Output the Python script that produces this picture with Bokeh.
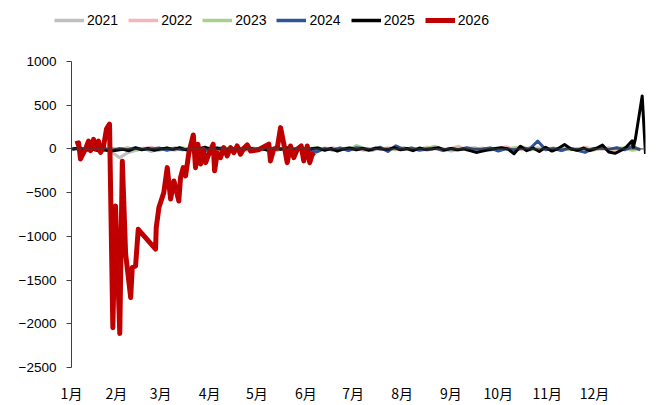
from bokeh.plotting import figure
from bokeh.layouts import column, row
from bokeh.models import Range1d, FixedTicker, Legend, LegendItem, Span
from bokeh.embed import file_html
from bokeh.resources import INLINE

# ---------------- data ----------------
years = ["2021", "2022", "2023", "2024", "2025", "2026"]
month_labels = ["1月", "2月", "3月", "4月", "5月", "6月", "7月", "8月", "9月", "10月", "11月", "12月"]
month_start_days = [1, 32, 60, 91, 121, 152, 182, 213, 244, 274, 305, 335]

vals_2021 = [-10, 5, -15, 10, -5, -35, -100, -45, -20, 10, -30, 5, -10,
             15, -5, 10, -20, 5, 15, -10, 0, 10, -15, 5, -5, 15,
             -10, 0, 10, -20, 5, -5, 10, -15, 0, 15, -10, 5, -20,
             10, 0, -10, 15, -5, 5, -15, 10, 0, -25, -10, 5, 15,
             -5, 10, -15, 0, 5, -10, 15, -5, 0, 10, -15, 5, -10,
             20, -5, 0, 10, -10, 5, -15, 0]
vals_2022 = [5, -10, 15, -5, 10, -20, -5, 10, -15, 5, 20, -10, 0,
             -15, 10, -40, 5, -10, 15, 0, -20, 10, 5, -10, 15, -5,
             10, -15, 0, 20, -10, 5, -5, 15, -10, 0, 10, -20, 5,
             -5, 15, 0, -10, 10, -5, 20, 0, -15, 5, 30, -10, 0,
             10, -15, 5, 25, -5, 0, -10, 15, -5, 10, -20, 5,
             -10, 15, 0, -5, 10, -15, 5, 20, -10]
vals_2023 = [0, 10, -10, 5, -15, 10, -5, 15, -10, 0, 5, -15, 10,
             -5, 15, -10, 0, 10, -20, 5, 15, -5, 0, 10, -10, 5,
             -15, 10, 0, 5, -10, 15, -5, 0, 10, -15, 40, 5, -10,
             15, -5, 0, 10, -15, 5, 10, 30, -5, 0, 15, -10, 5,
             -15, 10, 0, -5, 15, 25, -10, 0, 10, -5, 15, -10,
             5, 0, -15, 10, -5, 5, 15, -10, 0]
vals_2024 = [-5, 10, -15, 0, 10, -20, 5, -10, 15, -5, 0, 10, -15,
             5, -10, 0, 15, -20, 5, 10, -15, 0, 10, -5, 5, -15,
             10, -5, 0, 15, -10, -35, 5, -10, 10, -20, 15, 5, -10,
             20, -30, 35, -5, 10, -15, 0, 10, -20, 5, -10, 15, -5,
             0, 10, -25, 5, -15, 10, 0, 90, -10, 5, -20, 10,
             -15, -40, 5, 10, -5, 15, -10, 30, -10]
vals_2025 = [0, 10, -15, 5, -20, -10, -25, -15, -5, -20, 10, -10, 5, -15, 0,
             10, -5, 15, -10, 5, 0, 20, -5, 10, -15, 5, 0, -10, 10, -5,
             5, -15, 10, -5, 15, -10, 0, -20, 5, 10, -15, 5, -25, 0, 10,
             -10, 5, -15, 10, 0, -5, 15, -10, 5, -20, 10, -5, 0, 15, -10,
             5, -10, 0, -20, -40, -25, -10, 5, 15, 0, -55, 30, -20, 10, -30,
             20, -25, 5, 50, 0, -15, 10, -20, 5, 45, -35, -50, -15]
tail_days_2025 = [355, 358.8, 359.6, 360.9, 365.2, 367.3]
tail_vals_2025 = [20, 92, 15, 115, 606, -57]

days_2026 = [6, 8, 9.2, 12.4, 14.3, 15.6, 17.5, 18.7, 20.6, 21.9, 23.8, 25.7, 27.6,
             29.7, 31.4, 34.1, 35.7, 37.8, 41, 42, 44.1, 45.8, 56.8, 57.2, 58.9,
             62, 64.2, 66.3, 68.4, 71.5, 72.6, 74.3, 75.8, 77.9, 80.7, 82.1, 83.6,
             85.3, 87, 88.5, 90.5, 93.3, 94.2, 95.9, 98, 100, 102.2, 104.3, 106.4,
             108.5, 110.6, 112.7, 114.9, 117, 122, 128.6, 129.6, 131.7, 133.9, 136,
             138.1, 140.2, 142.3, 144.4, 146.6, 149.1, 150.7, 152.9, 154.5, 156.1, 157.5]
vals_2026 = [57, 70, -115, 0, 90, -20, 110, 0, 90, -40, 30, 230, 285,
             -2044, -652, -2112, -140, -1200, -1700, -1357, -1340, -920, -1145, -900, -671,
             -500, -214, -572, -366, -595, -328, -214, -309, -42, 160, -214, 54,
             -172, 0, -157, -60, 54, -250, -42, -99, 15, -80, 15, -42,
             34, -61, 8, 46, -23, -10, 54, -137, -3, 10, 244,
             54, -157, 34, -99, -3, 34, -137, 34, -157, -61, -80]

colors = ["#BFBFBF", "#F4B6BE", "#A9D18E", "#2F5597", "#000000", "#C00000"]
widths = [3, 3, 3, 3, 3, 5]
legend_widths = [3.5, 3.5, 3.5, 3.5, 3.5, 5]

def bg_days(vals):
    return [4 + 5 * i for i in range(len(vals))]

days_2025 = [4 + 4 * i for i in range(len(vals_2025))] + tail_days_2025
all_vals_2025 = vals_2025 + tail_vals_2025

X_START = 3.5
tick_days = [max(d, X_START) for d in month_start_days]

# ---------------- legend strip ----------------
lg = figure(width=650, height=30, x_range=Range1d(0, 650), y_range=Range1d(0, 30),
            x_axis_location=None, y_axis_location=None,
            min_border_left=0, min_border_right=0, min_border_top=0, min_border_bottom=0,
            output_backend="svg", toolbar_location=None)
lg.grid.visible = False
lg.outline_line_color = None
# off-range placeholder series: only their legend swatches are seen
lg_renderers = [lg.line(x=[-50, -40], y=[-50, -50], line_color=c, line_width=w)
                for c, w in zip(colors, legend_widths)]
legend = Legend(items=[LegendItem(label=y, renderers=[r]) for y, r in zip(years, lg_renderers)],
                orientation="horizontal", location=(54, 2),
                border_line_alpha=0, background_fill_alpha=0,
                glyph_width=30, glyph_height=16, label_standoff=3, spacing=10,
                padding=0, margin=0,
                label_text_font="Liberation Sans", label_text_font_size="14px",
                label_text_color="#000000")
lg.add_layout(legend)

# ---------------- main figure ----------------
p = figure(width=650, height=370, frame_width=574, frame_height=306,
           min_border_left=71, min_border_right=5, min_border_top=31, min_border_bottom=33,
           x_range=Range1d(X_START, 367.3), y_range=Range1d(-2500, 1000),
           output_backend="svg", toolbar_location=None)
p.outline_line_color = None
p.grid.visible = False

zero = Span(location=0, dimension="width", line_color="#404040", line_width=1)
p.add_layout(zero)

series = [
    (bg_days(vals_2021), vals_2021),
    (bg_days(vals_2022), vals_2022),
    (bg_days(vals_2023), vals_2023),
    (bg_days(vals_2024), vals_2024),
    (days_2025, all_vals_2025),
    (days_2026, vals_2026),
]
for (xs, ys), c, w in zip(series, colors, widths):
    p.line(xs, ys, line_color=c, line_width=w, line_join="round")

# y axis
p.yaxis.ticker = FixedTicker(ticks=[-2500, -2000, -1500, -1000, -500, 0, 500, 1000])
p.yaxis.axis_line_color = "#404040"
p.yaxis.major_tick_line_color = "#404040"
p.yaxis.major_tick_out = 5
p.yaxis.major_tick_in = 0
p.yaxis.minor_tick_line_color = None
p.yaxis.major_label_standoff = 10
p.yaxis.major_label_text_font = "Liberation Sans"
p.yaxis.major_label_text_font_size = "13.5px"
p.yaxis.major_label_text_color = "#000000"

# x axis
p.xaxis.ticker = FixedTicker(ticks=tick_days)
p.xaxis.major_label_overrides = {d: lab for d, lab in zip(tick_days, month_labels)}
p.xaxis.axis_line_color = None
p.xaxis.major_tick_line_color = None
p.xaxis.minor_tick_line_color = None
p.xaxis.major_tick_out = 0
p.xaxis.major_tick_in = 0
p.xaxis.major_label_standoff = 15
p.xaxis.major_label_text_font = "Noto Sans CJK SC"
p.xaxis.major_label_text_font_size = "14px"
p.xaxis.major_label_text_color = "#000000"

layout = column(row(lg, spacing=0), p, spacing=0)
open("out.html", "w").write(file_html(layout, INLINE))
